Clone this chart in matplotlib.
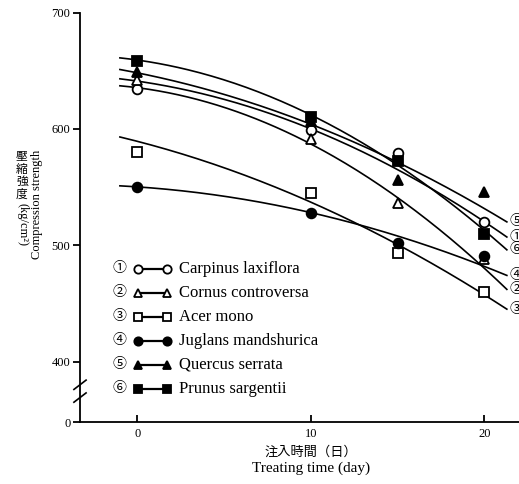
import numpy as np
import matplotlib.pyplot as plt

# compression strength (kg/cm2) after treating for 0, 10, 15, 20 days
days = [0, 10, 15, 20]
carpinus = [634, 599, 579, 520]
cornus = [642, 591, 536, 488]
acer = [580, 545, 493, 460]
juglans = [550, 528, 502, 491]
quercus = [649, 607, 556, 546]
prunus = [658, 610, 572, 510]

# trend curves: start, middle and end values of each fitted line
curve_days = [-1, 10, 21.3]
carpinus_curve = [643, 600, 507]
cornus_curve = [637, 587, 462]
acer_curve = [593, 537, 445]
juglans_curve = [551, 528, 474]
quercus_curve = [651, 604, 520]
prunus_curve = [661, 612, 496]

species = ["Carpinus laxiflora", "Cornus controversa", "Acer mono",
           "Juglans mandshurica", "Quercus serrata", "Prunus sargentii"]
numbers = ["①", "②", "③", "④", "⑤", "⑥"]

series = [carpinus, cornus, acer, juglans, quercus, prunus]
curves = [carpinus_curve, cornus_curve, acer_curve, juglans_curve,
          quercus_curve, prunus_curve]
markers = ["o", "^", "s", "o", "^", "s"]
filled = [False, False, False, True, True, True]

SERIF = ["Liberation Serif", "Noto Sans CJK JP"]
CJK = ["Noto Sans CJK JP", "DejaVu Sans"]

fig = plt.figure(figsize=(5.19, 4.84), dpi=100)
ax = fig.add_axes([80 / 519, 62 / 484, 1 - 80 / 519, 409.5 / 484])
ax.set_xlim(-3.3, 22.0)
ax.set_ylim(348, 700)

for s in ["top", "right"]:
    ax.spines[s].set_visible(False)
for s in ["left", "bottom"]:
    ax.spines[s].set_linewidth(1.3)

# smooth trend curves, measured points and curve numbers
x_fit = np.linspace(curve_days[0], curve_days[-1], 200)
for vals, cv, num, mk, fl in zip(series, curves, numbers, markers, filled):
    coef = np.polyfit(curve_days, cv, 2)
    ax.plot(x_fit, np.polyval(coef, x_fit), color="black", lw=1.2, zorder=2)
    ax.plot(days, vals, linestyle="none", marker=mk, ms=7,
            markerfacecolor="black" if fl else "white",
            markeredgecolor="black", markeredgewidth=1.3, zorder=3)
    ax.text(curve_days[-1] + 0.15, cv[-1], num, fontsize=10, family=SERIF,
            va="center", ha="left", clip_on=False)

ax.set_yticks([348, 400, 500, 600, 700])
ax.set_yticklabels(["0", "400", "500", "600", "700"], family=SERIF, fontsize=9)
ax.set_xticks([0, 10, 20])
ax.set_xticklabels(["0", "10", "20"], family=SERIF, fontsize=9)
ax.tick_params(axis="y", direction="out", length=5, width=1.3, pad=2)
ax.tick_params(axis="x", direction="in", length=5, width=1.3, pad=4)

# axis break marks between 0 and 400
for yb in [369, 380]:
    ax.plot([-3.65, -2.95], [yb - 4, yb + 4], color="black", lw=1.2,
            clip_on=False, zorder=4)

# legend drawn by hand: number, marker-line-marker, name
row_top = 0.374
row_step = 0.0585
for i, (num, name, mk, fl) in enumerate(zip(numbers, species, markers, filled)):
    y = row_top - i * row_step
    ax.text(0.089, y, num, transform=ax.transAxes, fontsize=10,
            family=SERIF, ha="center", va="center")
    ax.plot([0.132, 0.198], [y, y], transform=ax.transAxes, color="black",
            lw=1.6, marker=mk, ms=6,
            markerfacecolor="black" if fl else "white",
            markeredgecolor="black", markeredgewidth=1.3)
    ax.text(0.226, y, name, transform=ax.transAxes, fontsize=12,
            family=SERIF, ha="left", va="center")

# axis titles
ax.text(10, 322, "注入時間（日）", family=CJK, fontsize=9.5,
        ha="center", va="center", clip_on=False)
ax.text(10, 308.5, "Treating time (day)", family=SERIF, fontsize=11,
        ha="center", va="center", clip_on=False)

fig.text(37 / 519, 1 - 204 / 484, "Compression strength", family=SERIF,
         fontsize=9, rotation=90, ha="center", va="center")
fig.text(22 / 519, 1 - 150 / 484, "壓\n縮\n強\n度", family=CJK,
         fontsize=8.5, linespacing=0.95, ha="center", va="top")
fig.text(22 / 519, 1 - 203 / 484, "(kg/cm²)", family=SERIF, fontsize=9,
         rotation=-90, ha="center", va="top")

fig.savefig("out.png", dpi=100)
